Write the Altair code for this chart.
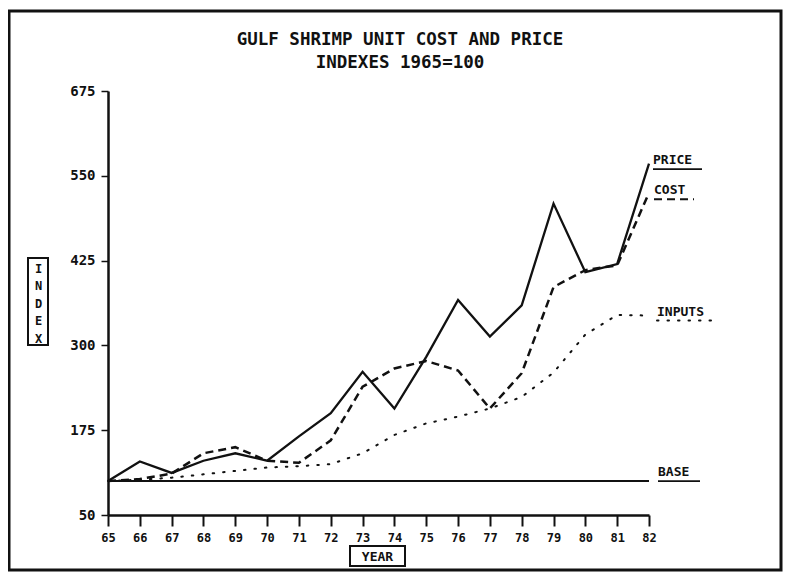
import altair as alt
import pandas as pd

years = list(range(65, 83))
price = [100, 129, 112, 130, 141, 130, 166, 200, 261, 207, 283, 367, 313, 359, 509, 408, 420, 568]
cost = [100, 103, 111, 141, 150, 130, 127, 160, 239, 266, 277, 263, 207, 259, 386, 411, 418, 525]
inputs = [100, 102, 105, 110, 115, 120, 122, 125, 141, 168, 185, 195, 207, 224, 260, 316, 345, 344]
base = [100] * 18

y_ticks = [50, 175, 300, 425, 550, 675]
series_names = ["PRICE", "COST", "INPUTS", "BASE"]
title_lines = ["GULF SHRIMP UNIT COST AND PRICE", "INDEXES 1965=100"]

FONT = "DejaVu Sans Mono"
INK = "#111111"

df = pd.DataFrame({"year": years, "PRICE": price, "COST": cost, "INPUTS": inputs, "BASE": base})
long = df.melt("year", var_name="series", value_name="index")

xs = alt.Scale(domain=[65, 82], nice=False, zero=False)
ys = alt.Scale(domain=[50, 675], nice=False, zero=False)

xax = alt.Axis(values=years, format="d", tickSize=11, tickWidth=2, tickColor=INK,
               domainWidth=2.5, domainColor=INK, labelPadding=6, labelFont=FONT,
               labelFontSize=12, labelFontWeight="bold", labelColor=INK, grid=False,
               labelOverlap=False, labelFlush=False,
               title="YEAR", titleFont=FONT, titleFontSize=13, titleFontWeight="bold",
               titleColor=INK, titleY=41, titleX=269, titleBaseline="middle")
yax = alt.Axis(values=y_ticks, tickSize=7, tickWidth=1.5, tickColor=INK,
               domainWidth=2.5, domainColor=INK, labelPadding=6, labelFont=FONT,
               labelFontSize=14, labelFontWeight="bold", labelColor=INK, grid=False,
               labelOverlap=False,
               title=["I", "N", "D", "E", "X"], titleAngle=0, titleX=-70, titleY=177,
               titleAlign="center", titleBaseline="middle", titleLineHeight=17.5,
               titleFont=FONT, titleFontSize=12, titleFontWeight="bold", titleColor=INK)

X = alt.X("year:Q", scale=xs, axis=xax)
Y = alt.Y("index:Q", scale=ys, axis=yax)


def line(name, **kw):
    return alt.Chart(long).transform_filter(alt.datum.series == name).mark_line(
        color=INK, **kw
    ).encode(x=X, y=Y)


price_l = line("PRICE", strokeWidth=2.3)
cost_l = line("COST", strokeWidth=2.5, strokeDash=[8, 5])
inputs_l = line("INPUTS", strokeWidth=2, strokeDash=[1.5, 9], strokeCap="round")
base_l = line("BASE", strokeWidth=2)

last = long[long.year == years[-1]]


def label(name, dx, dy, width, dash=None, cap="butt", sw=1.8):
    d = last[last.series == name]
    t = alt.Chart(d).mark_text(align="left", baseline="middle", dx=dx, dy=dy, font=FONT,
                               fontSize=13, fontWeight="bold", color=INK).encode(
        x=X, y=Y, text="series:N")
    kw = dict(color=INK, strokeWidth=sw, xOffset=dx, x2Offset=dx + width, yOffset=dy + 9,
              strokeCap=cap)
    if dash:
        kw["strokeDash"] = dash
    u = alt.Chart(d).mark_rule(**kw).encode(x=X, x2="year:Q", y=Y)
    return t + u


lab_price = label("PRICE", 4, -3.5, 49)
lab_cost = label("COST", 5, -2.5, 40, dash=[8, 5])
lab_inputs = label("INPUTS", 8, -4, 54, dash=[1.5, 9], cap="round", sw=2)
lab_base = label("BASE", 9, -9, 42)

one = pd.DataFrame({"k": [0]})


def title_line(i, ypx):
    return alt.Chart(pd.DataFrame({"t": [title_lines[i]]})).mark_text(
        font=FONT, fontSize=17.5, fontWeight="bold", color=INK, align="center",
        baseline="middle"
    ).encode(text="t:N", x=alt.value(292), y=alt.value(ypx))


title1 = title_line(0, -51)
title2 = title_line(1, -28)

box_index = alt.Chart(one).mark_rect(filled=False, stroke=INK, strokeWidth=2).encode(
    x=alt.value(-80), x2=alt.value(-60), y=alt.value(167), y2=alt.value(254))
box_year = alt.Chart(one).mark_rect(filled=False, stroke=INK, strokeWidth=2).encode(
    x=alt.value(242), x2=alt.value(297), y=alt.value(455), y2=alt.value(475))
border = alt.Chart(one).mark_rect(filled=False, stroke=INK, strokeWidth=3).encode(
    x=alt.value(-99), x2=alt.value(673), y=alt.value(-80), y2=alt.value(479))

chart = alt.layer(
    base_l, inputs_l, cost_l, price_l,
    lab_price, lab_cost, lab_inputs, lab_base,
    title1, title2, box_index, box_year, border,
).properties(
    width=541, height=424,
    padding={"left": 100, "top": 83, "right": 134, "bottom": 59},
    autosize=alt.AutoSizeParams(type="none"),
    background="white",
).configure_view(stroke=None)

chart.save("out.html", embed_options={"renderer": "svg", "actions": False})
